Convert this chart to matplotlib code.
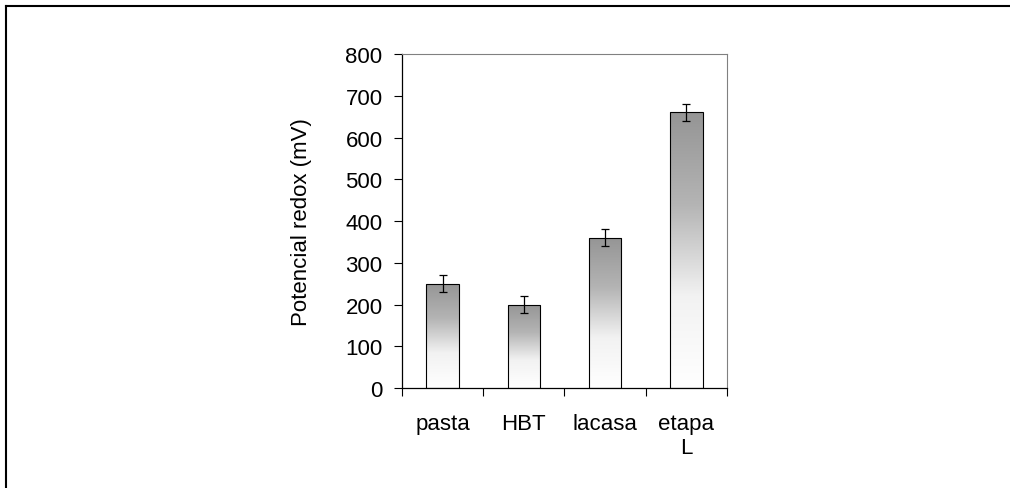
import numpy as np
import matplotlib.pyplot as plt
from matplotlib.lines import Line2D
from matplotlib.colors import LinearSegmentedColormap

plt.rcParams['font.family'] = ['Liberation Sans', 'DejaVu Sans']

# data
categories = ["pasta", "HBT", "lacasa", "etapa\nL"]
values = [250, 200, 360, 660]
errors = [20, 20, 20, 20]

fig = plt.figure(figsize=(10.1, 4.89), dpi=100)
ax = fig.add_axes([0.398, 0.2045, 0.3218, 0.683])

x = np.arange(len(categories))
bars = ax.bar(x, values, width=0.4, color='none', edgecolor='black', linewidth=0.8, zorder=3)

# gradient fill: gray on top, white at bottom
cmap = LinearSegmentedColormap.from_list("g", ["#ffffff", "#f2f2f2", "#b4b4b4", "#959595"])
grad = np.linspace(0, 1, 256).reshape(-1, 1)
for b in bars:
    x0, y0 = b.get_x(), b.get_y()
    w, h = b.get_width(), b.get_height()
    im = ax.imshow(grad, cmap=cmap, aspect='auto', origin='lower',
                   extent=[x0, x0 + w, y0, y0 + h], zorder=2)
    im.set_clip_path(b)

ax.errorbar(x, values, yerr=errors, fmt='none', ecolor='black', elinewidth=0.9,
            capsize=3, capthick=0.9, zorder=4)

ax.set_xlim(-0.5, 3.5)
ax.set_ylim(0, 800)
ax.set_yticks(range(0, 801, 100))
ax.set_xticks(np.arange(-0.5, 4, 1))
ax.set_xticklabels([])
ax.set_xticks(x, minor=True)
ax.set_xticklabels(categories, minor=True)
ax.tick_params(axis='x', which='minor', length=0, pad=18, labelsize=16)
ax.tick_params(axis='x', which='major', length=6, direction='out', width=0.8)
ax.tick_params(axis='y', length=6, direction='out', width=0.8, labelsize=16, pad=8)
ax.set_ylabel("Potencial redox (mV)", fontsize=16, labelpad=24)

for s in ['top', 'right']:
    ax.spines[s].set_color('#808080')
    ax.spines[s].set_linewidth(0.8)
for s in ['left', 'bottom']:
    ax.spines[s].set_color('black')
    ax.spines[s].set_linewidth(0.9)

# outer frame (top and left edges)
fig.add_artist(Line2D([5.5 / 1010, 1], [1 - 6.5 / 489, 1 - 6.5 / 489], color='black', lw=1.5,
                      transform=fig.transFigure))
fig.add_artist(Line2D([5.5 / 1010, 5.5 / 1010], [0, 1 - 6.5 / 489], color='black', lw=1.5,
                      transform=fig.transFigure))

plt.savefig("out.png", dpi=100)
